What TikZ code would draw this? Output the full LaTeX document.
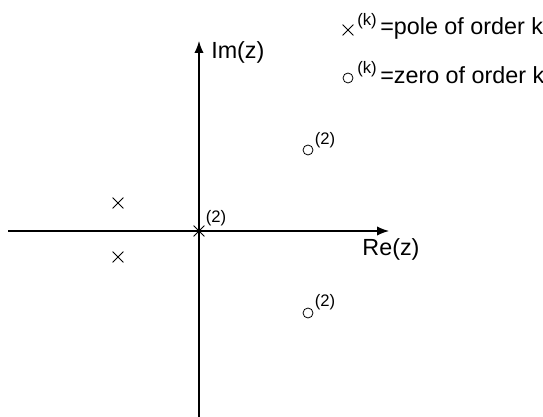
\documentclass[tikz,border=0pt]{standalone}
\usepackage{fontspec}
\setmainfont{Liberation Sans}
\usetikzlibrary{arrows.meta,shapes.misc}

\tikzset{
	pole/.style={cross out, draw, line width=0.6pt, minimum size=7.5pt, inner sep=0pt},
	zero/.style={circle, draw, line width=0.6pt, minimum size=7.5pt, inner sep=0pt},
	axis/.style={line width=0.9pt, -{Latex[length=9pt,width=7pt]}},
	sup/.style={font=\fontsize{12.5}{15}\selectfont, inner sep=0pt},
	lbl/.style={font=\fontsize{17.5}{21}\selectfont, inner sep=0pt},
}

\begin{document}
\begin{tikzpicture}[x=0.75pt, y=-0.75pt]
		\useasboundingbox (0,0) rectangle (543,417);
		% axes
		\coordinate (xl) at (8,231);
		\coordinate (xr) at (389,231);
		\coordinate (yb) at (199,417);
		\coordinate (yt) at (199,41);
		\draw [axis] (xl) -- (xr);
		\draw [axis] (yb) -- (yt);
		\node [lbl, anchor=west] (im) at (211,52) {Im(z)};
		\node [lbl] (re) at (391,249) {Re(z)};
		% poles
		\node [pole] (p0) at (199,231) {};
		\node [sup] (p0k) at (216,218) {(2)};
		\node [pole] (p1) at (118,203) {};
		\node [pole] (p2) at (118,257) {};
		% zeros
		\node [zero] (z1) at (308,150) {};
		\node [sup] (z1k) at (325,140) {(2)};
		\node [zero] (z2) at (308,313) {};
		\node [sup] (z2k) at (325,302) {(2)};
		% legend
		\node [pole] (lp) at (348,30) {};
		\node [sup] (lpk) at (367,21) {(k)};
		\node [lbl, anchor=base west] (lpt) at (380,35) {=pole of order k};
		\node [zero] (lz) at (348,78) {};
		\node [sup] (lzk) at (367,69) {(k)};
		\node [lbl, anchor=base west] (lzt) at (380,84) {=zero of order k};
	\end{tikzpicture}
\end{document}
